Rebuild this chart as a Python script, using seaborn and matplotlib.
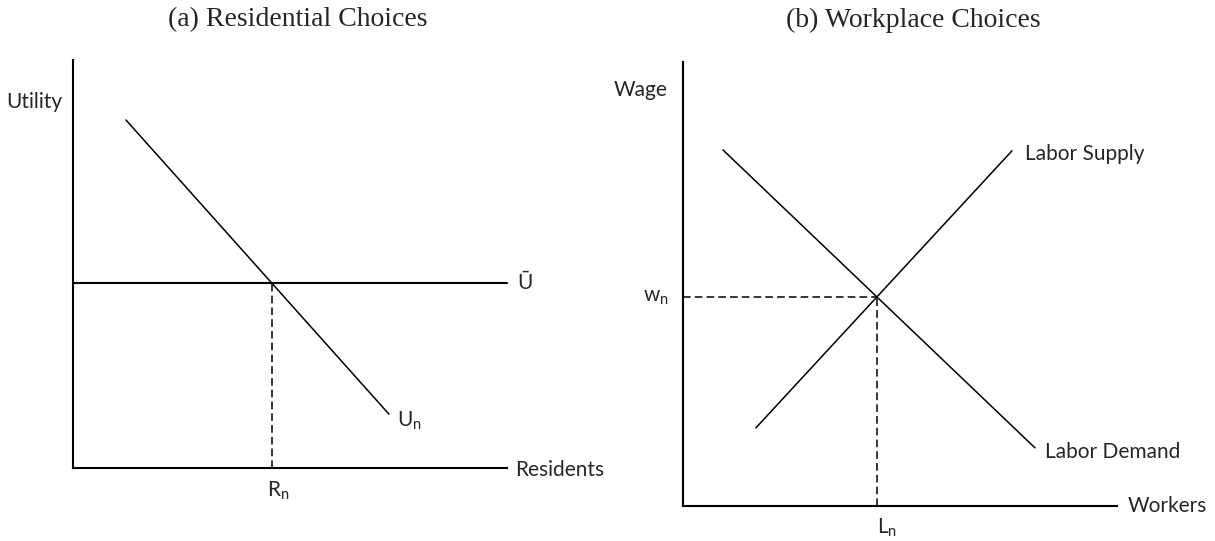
import matplotlib
matplotlib.use("Agg")
import matplotlib.pyplot as plt
import seaborn as sns

# panel (a): residential choices (axis units 0-10)
un_x = [1.22, 7.28]
un_y = [8.53, 1.32]
ubar = 4.53
r_n = 4.58

# panel (b): workplace choices
demand_x = [0.92, 8.11]
demand_y = [8.02, 1.31]
supply_x = [1.68, 7.58]
supply_y = [1.76, 8.00]
w_n = 4.70
l_n = 4.48

titles = ["(a) Residential Choices", "(b) Workplace Choices"]

sns.set_style("white")
plt.rcParams['font.family'] = ['Lato', 'DejaVu Sans']
plt.rcParams['mathtext.fontset'] = 'custom'
plt.rcParams['mathtext.rm'] = 'Lato'
plt.rcParams['mathtext.it'] = 'Lato:italic'

fig = plt.figure(figsize=(12.15, 5.41), dpi=100)
ax1 = fig.add_axes([73/1215, 1 - 468/541, 434/1215, 408/541])
ax2 = fig.add_axes([683/1215, 1 - 506/541, 434/1215, 444/541])

dash = (0, (5, 2.7))
fs = 15

for ax in (ax1, ax2):
    ax.set_xlim(0, 10)
    ax.set_ylim(0, 10)
    ax.set_xticks([])
    ax.set_yticks([])
    sns.despine(ax=ax)
    for s in ("left", "bottom"):
        ax.spines[s].set_color("black")
        ax.spines[s].set_linewidth(1.5)

# (a)
sns.lineplot(x=un_x, y=un_y, ax=ax1, color="black", lw=1.1, sort=False, estimator=None)
sns.lineplot(x=[0, 10], y=[ubar, ubar], ax=ax1, color="black", lw=1.5, sort=False, estimator=None, clip_on=False)
sns.lineplot(x=[r_n, r_n], y=[0, ubar], ax=ax1, color="black", lw=1.1, linestyle=dash, sort=False, estimator=None)
ax1.text(-0.25, 8.97, "Utility", ha="right", va="center", fontsize=fs)
ax1.text(10.23, ubar, "Ū", ha="left", va="center", fontsize=fs)
ax1.text(7.47, 1.15, "U$_{\\mathrm{n}}$", ha="left", va="center", fontsize=fs)
ax1.text(10.18, -0.05, "Residents", ha="left", va="center", fontsize=fs)
ax1.text(r_n - 0.1, -0.55, "R$_{\\mathrm{n}}$", ha="left", va="center", fontsize=fs)

# (b)
sns.lineplot(x=demand_x, y=demand_y, ax=ax2, color="black", lw=1.1, sort=False, estimator=None)
sns.lineplot(x=supply_x, y=supply_y, ax=ax2, color="black", lw=1.1, sort=False, estimator=None)
sns.lineplot(x=[0, l_n], y=[w_n, w_n], ax=ax2, color="black", lw=1.1, linestyle=dash, sort=False, estimator=None)
sns.lineplot(x=[l_n, l_n], y=[0, w_n], ax=ax2, color="black", lw=1.1, linestyle=dash, sort=False, estimator=None)
ax2.text(-0.35, 9.37, "Wage", ha="right", va="center", fontsize=fs)
ax2.text(-0.33, w_n, "w$_{\\mathrm{n}}$", ha="right", va="center", fontsize=fs)
ax2.text(l_n, -0.5, "L$_{\\mathrm{n}}$", ha="left", va="center", fontsize=fs)
ax2.text(7.88, 7.93, "Labor Supply", ha="left", va="center", fontsize=fs)
ax2.text(8.35, 1.22, "Labor Demand", ha="left", va="center", fontsize=fs)
ax2.text(10.25, 0, "Workers", ha="left", va="center", fontsize=fs)

fig.text(298/1215, 1 - 20/541, titles[0], ha="center", va="center",
         fontsize=20, family=["Liberation Serif", "DejaVu Serif"])
fig.text(913/1215, 1 - 20/541, titles[1], ha="center", va="center",
         fontsize=20, family=["Liberation Serif", "DejaVu Serif"])

fig.savefig("out.png", dpi=100)
